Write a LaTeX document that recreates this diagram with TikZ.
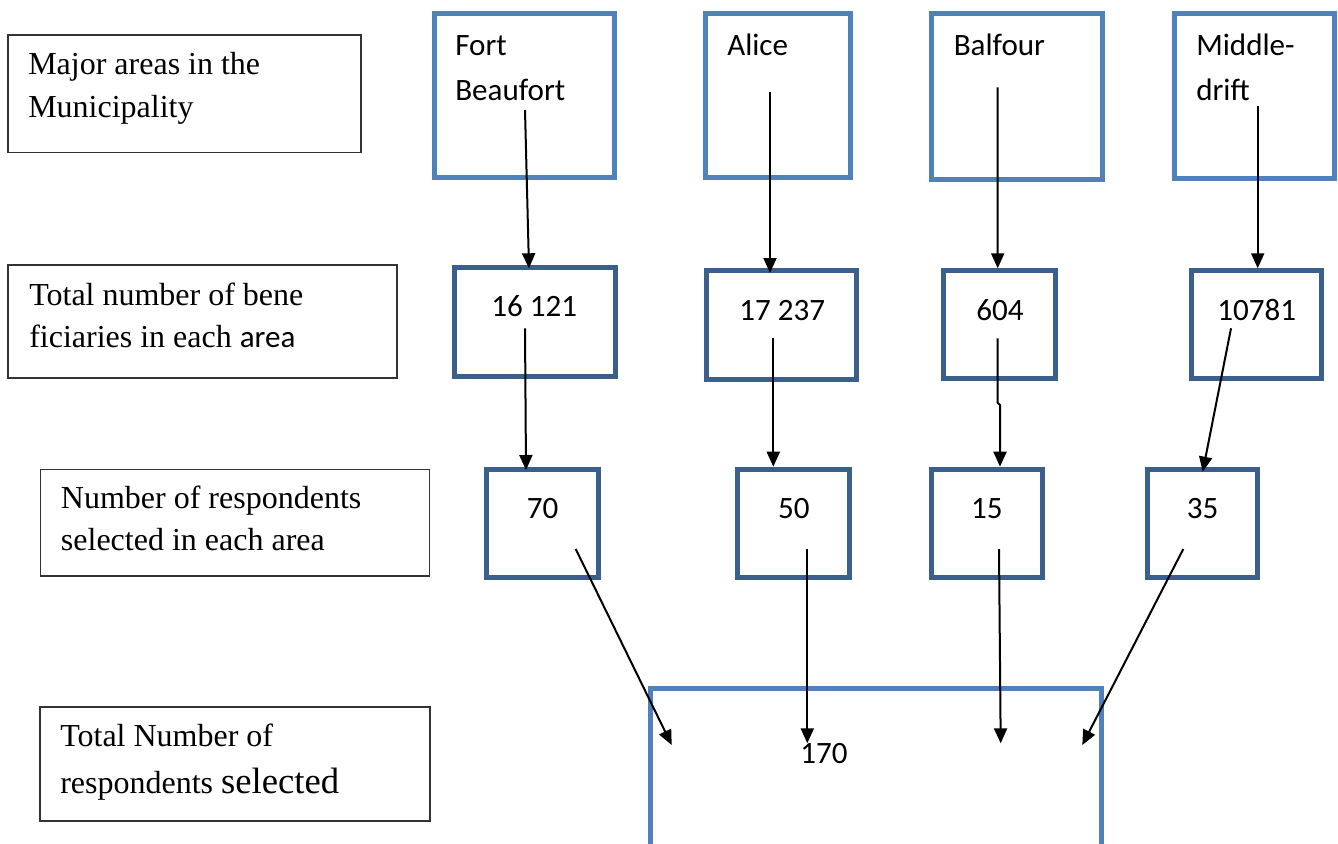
\documentclass[tikz,border=0pt]{standalone}
\usepackage{fontspec}
\setmainfont{Liberation Serif}
\newfontfamily\calfont{Carlito}
\usetikzlibrary{arrows.meta}
\definecolor{lightblue}{HTML}{4F81BD}
\definecolor{darkblue}{HTML}{3A5F8C}
\definecolor{framegray}{HTML}{333333}
\tikzset{
  topbox/.style={draw=lightblue, line width=3.75pt, rectangle, inner sep=0pt, outer sep=0pt},
  midbox/.style={draw=darkblue, line width=3.75pt, rectangle, inner sep=0pt, outer sep=0pt},
  labelbox/.style={draw=framegray, line width=0.8pt, rectangle, inner sep=0pt, outer sep=0pt},
  serif/.style={inner sep=0pt, anchor=base west, font=\fontsize{24}{29}\selectfont},
  sans/.style={inner sep=0pt, font=\calfont\fontsize{23.3}{28}\selectfont},
  flow/.style={line width=1.5pt, -{Triangle[length=11.25pt, width=9.75pt]}},
}
\begin{document}
\begin{tikzpicture}[x=0.75pt, y=-0.75pt]
\useasboundingbox (0,0) rectangle (1338,843);
\clip (0,0) rectangle (1338,843);
\fill[white] (0,0) rectangle (1338,843);

% left label boxes
\node[labelbox, minimum width=353*0.75pt, minimum height=117.5*0.75pt] (L1) at (184.5,93.75) {};
\node[serif] (L1a) at (28,74.3) {Major areas in the};
\node[serif] (L1b) at (28,117) {Municipality};

\node[labelbox, minimum width=389*0.75pt, minimum height=113*0.75pt] (L2) at (202.5,321.5) {};
\node[serif] (L2a) at (29,305) {Total number of bene};
\node[serif] (L2b) at (29,347.3) {ficiaries in each {\calfont\fontsize{23.3}{28}\selectfont area}};

\node[labelbox, minimum width=388.6*0.75pt, minimum height=106.7*0.75pt] (L3) at (235,522.65) {};
\node[serif] (L3a) at (60.7,508.3) {Number of respondents};
\node[serif] (L3b) at (60.7,550) {selected in each area};

\node[labelbox, minimum width=390*0.75pt, minimum height=114*0.75pt] (L4) at (235,764) {};
\node[serif] (L4a) at (60,746.7) {Total Number of};
\node[serif] (L4b) at (60,793.3) {respondents {\fontsize{27.5}{33}\selectfont selected}};

% top row
\node[topbox, minimum width=180*0.75pt, minimum height=164.5*0.75pt] (a1) at (524.5,95.25) {};
\node[topbox, minimum width=144.5*0.75pt, minimum height=164.5*0.75pt] (a2) at (777.75,95.25) {};
\node[topbox, minimum width=171*0.75pt, minimum height=165.3*0.75pt] (a3) at (1016.5,96.35) {};
\node[topbox, minimum width=160*0.75pt, minimum height=165*0.75pt] (a4) at (1254,95.5) {};
\node[sans, anchor=base west] (a1t1) at (455,55) {Fort};
\node[sans, anchor=base west] (a1t2) at (455,100) {Beaufort};
\node[sans, anchor=base west] (a2t) at (727,55) {Alice};
\node[sans, anchor=base west] (a3t) at (953.5,55) {Balfour};
\node[sans, anchor=base west] (a4t1) at (1196,55) {Middle-};
\node[sans, anchor=base west] (a4t2) at (1196,100) {drift};

% middle row
\node[midbox, minimum width=161*0.75pt, minimum height=108.5*0.75pt] (b1) at (534.5,321.75) {};
\node[midbox, minimum width=149.9*0.75pt, minimum height=108.2*0.75pt] (b2) at (781.75,324.9) {};
\node[midbox, minimum width=111.7*0.75pt, minimum height=108*0.75pt] (b3) at (999.65,324.8) {};
\node[midbox, minimum width=130.3*0.75pt, minimum height=108*0.75pt] (b4) at (1256.65,324.8) {};
\node[sans, anchor=base] (b1t) at (534.2,316.7) {16 121};
\node[sans, anchor=base] (b2t) at (782.2,320) {17 237};
\node[sans, anchor=base] (b3t) at (1000,320) {604};
\node[sans, anchor=base] (b4t) at (1256.7,320) {10781};

% third row
\node[midbox, minimum width=111.5*0.75pt, minimum height=107.7*0.75pt] (c1) at (542.55,523.65) {};
\node[midbox, minimum width=111.4*0.75pt, minimum height=107.7*0.75pt] (c2) at (793.5,523.65) {};
\node[midbox, minimum width=110.8*0.75pt, minimum height=107.7*0.75pt] (c3) at (986.9,523.65) {};
\node[midbox, minimum width=110.3*0.75pt, minimum height=107.7*0.75pt] (c4) at (1202.65,523.65) {};
\node[sans, anchor=base] (c1t) at (542.5,518.3) {70};
\node[sans, anchor=base] (c2t) at (793.8,518.3) {50};
\node[sans, anchor=base] (c3t) at (986.9,518.3) {15};
\node[sans, anchor=base] (c4t) at (1202.5,518.3) {35};

% bottom box (open below the picture edge)
\node[topbox, minimum width=450.9*0.75pt, minimum height=411.5*0.75pt] (d) at (876.25,894.25) {};
\node[sans, anchor=base] (dt) at (824,763.3) {170};

% connector end points
\coordinate (a1s) at (525,110);     \coordinate (b1n) at (529,268.3);
\coordinate (a2s) at (770,91.7);    \coordinate (b2n) at (770,273);
\coordinate (a3s) at (997.5,87.3);  \coordinate (b3n) at (997.7,268.3);
\coordinate (a4s) at (1257.7,106);  \coordinate (b4n) at (1257.7,268.3);
\coordinate (b1s) at (525,328.3);   \coordinate (c1n) at (526,470);
\coordinate (b2s) at (773.3,338.3); \coordinate (c2n) at (773.3,466.7);
\coordinate (b3s) at (997.7,338.3); \coordinate (b3j1) at (997.7,403); \coordinate (b3j2) at (1000,405); \coordinate (c3n) at (1000,466.7);
\coordinate (b4s) at (1231,328.3);  \coordinate (c4n) at (1202.7,471.7);
\coordinate (c1s) at (575.7,549);   \coordinate (d1) at (671.7,745);
\coordinate (c2s) at (807.3,549);   \coordinate (d2) at (807.3,743.3);
\coordinate (c3s) at (999,549);     \coordinate (d3) at (1000.7,743.3);
\coordinate (c4s) at (1183.3,549);  \coordinate (d4) at (1082.3,745);

\draw[flow] (a1s) -- (b1n);
\draw[flow] (a2s) -- (b2n);
\draw[flow] (a3s) -- (b3n);
\draw[flow] (a4s) -- (b4n);
\draw[flow] (b1s) -- (c1n);
\draw[flow] (b2s) -- (c2n);
\draw[flow] (b3s) -- (b3j1) -- (b3j2) -- (c3n);
\draw[flow] (b4s) -- (c4n);
\draw[flow] (c1s) -- (d1);
\draw[flow] (c2s) -- (d2);
\draw[flow] (c3s) -- (d3);
\draw[flow] (c4s) -- (d4);
\end{tikzpicture}
\end{document}
